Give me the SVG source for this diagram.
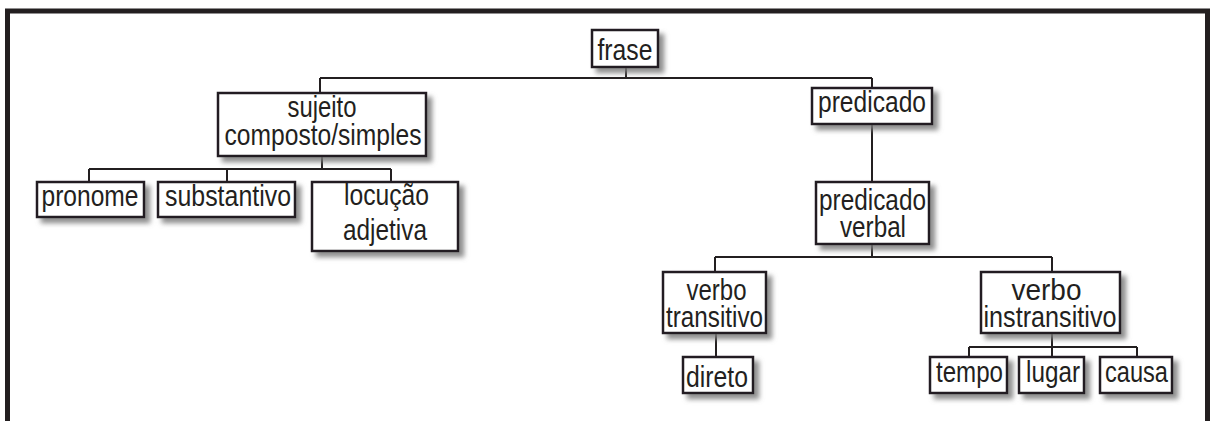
<svg xmlns="http://www.w3.org/2000/svg" width="1210" height="421" viewBox="0 0 1210 421">
  <defs>
    <filter id="shadow" x="-20%" y="-20%" width="150%" height="160%">
      <feDropShadow dx="5" dy="5" stdDeviation="2.5" flood-color="#7a7a7a" flood-opacity="0.85"/>
    </filter>
    <style>
      .box { fill: #ffffff; stroke: #231f20; stroke-width: 2.5; filter: url(#shadow); }
      .lbl { font-family: "Liberation Sans Narrow", "Liberation Sans", Arial, sans-serif; font-size: 29px; fill: #231f20; text-anchor: middle; }
      .edge { fill: none; stroke: #231f20; stroke-width: 2; }
      .frame { fill: none; stroke: #231f20; stroke-width: 5; }
    </style>
  </defs>

  <rect width="1210" height="421" fill="#ffffff"/>
  <!-- outer frame, open at the bottom -->
  <path class="frame" d="M7.5,421 V11 H1207.5 V421"/>

  <!-- connectors -->
  <g id="connectors">
    <path class="edge" d="M626,67 V78 M320,78 H872 M320,78 V93 M872,78 V88"/>
    <path class="edge" d="M872,124 V182"/>
    <path class="edge" d="M322,156 V169 M89,169 H391 M89,169 V182 M227,169 V182 M391,169 V182"/>
    <path class="edge" d="M872,244 V257 M715,257 H1052 M715,257 V272 M1052,257 V272"/>
    <path class="edge" d="M716,333 V357"/>
    <path class="edge" d="M1052,333 V347 M969,347 H1137 M969,347 V357 M1052,347 V357 M1137,347 V357"/>
  </g>

  <g id="frase">
    <rect class="box" x="592" y="30" width="66" height="37"/>
    <text class="lbl" x="625" y="60" textLength="55" lengthAdjust="spacingAndGlyphs">frase</text>
  </g>

  <g id="sujeito">
    <rect class="box" x="218" y="93" width="208" height="63"/>
    <text class="lbl" x="322" y="117" textLength="69" lengthAdjust="spacingAndGlyphs">sujeito</text>
    <text class="lbl" x="323" y="145" textLength="197" lengthAdjust="spacingAndGlyphs">composto/simples</text>
  </g>

  <g id="predicado">
    <rect class="box" x="812" y="88" width="120" height="36"/>
    <text class="lbl" x="872" y="112" textLength="108" lengthAdjust="spacingAndGlyphs">predicado</text>
  </g>

  <g id="pronome">
    <rect class="box" x="37" y="182" width="107" height="35"/>
    <text class="lbl" x="90" y="206" textLength="97" lengthAdjust="spacingAndGlyphs">pronome</text>
  </g>

  <g id="substantivo">
    <rect class="box" x="158" y="182" width="137" height="35"/>
    <text class="lbl" x="228" y="206" textLength="126" lengthAdjust="spacingAndGlyphs">substantivo</text>
  </g>

  <g id="locucao-adjetiva">
    <rect class="box" x="312" y="182" width="146" height="69"/>
    <text class="lbl" x="386.5" y="205" textLength="85" lengthAdjust="spacingAndGlyphs">locução</text>
    <text class="lbl" x="385" y="240" textLength="84" lengthAdjust="spacingAndGlyphs">adjetiva</text>
  </g>

  <g id="predicado-verbal">
    <rect class="box" x="816" y="182" width="113" height="62"/>
    <text class="lbl" x="872.5" y="210" textLength="107" lengthAdjust="spacingAndGlyphs">predicado</text>
    <text class="lbl" x="873" y="237" textLength="66" lengthAdjust="spacingAndGlyphs">verbal</text>
  </g>

  <g id="verbo-transitivo">
    <rect class="box" x="663" y="272" width="103" height="61"/>
    <text class="lbl" x="716.5" y="300" textLength="60" lengthAdjust="spacingAndGlyphs">verbo</text>
    <text class="lbl" x="714.5" y="327" textLength="97" lengthAdjust="spacingAndGlyphs">transitivo</text>
  </g>

  <g id="verbo-instransitivo">
    <rect class="box" x="981" y="272" width="139" height="61"/>
    <text class="lbl" x="1046.5" y="300" textLength="70" lengthAdjust="spacingAndGlyphs">verbo</text>
    <text class="lbl" x="1050" y="327" textLength="133" lengthAdjust="spacingAndGlyphs">instransitivo</text>
  </g>

  <g id="direto">
    <rect class="box" x="683" y="357" width="70" height="36"/>
    <text class="lbl" x="717" y="387" textLength="62" lengthAdjust="spacingAndGlyphs">direto</text>
  </g>

  <g id="tempo">
    <rect class="box" x="930" y="357" width="77" height="36"/>
    <text class="lbl" x="969.5" y="382" textLength="67" lengthAdjust="spacingAndGlyphs">tempo</text>
  </g>

  <g id="lugar">
    <rect class="box" x="1019" y="357" width="65" height="36"/>
    <text class="lbl" x="1053" y="382" textLength="54" lengthAdjust="spacingAndGlyphs">lugar</text>
  </g>

  <g id="causa">
    <rect class="box" x="1100" y="357" width="72" height="36"/>
    <text class="lbl" x="1136.5" y="382" textLength="63" lengthAdjust="spacingAndGlyphs">causa</text>
  </g>
</svg>
